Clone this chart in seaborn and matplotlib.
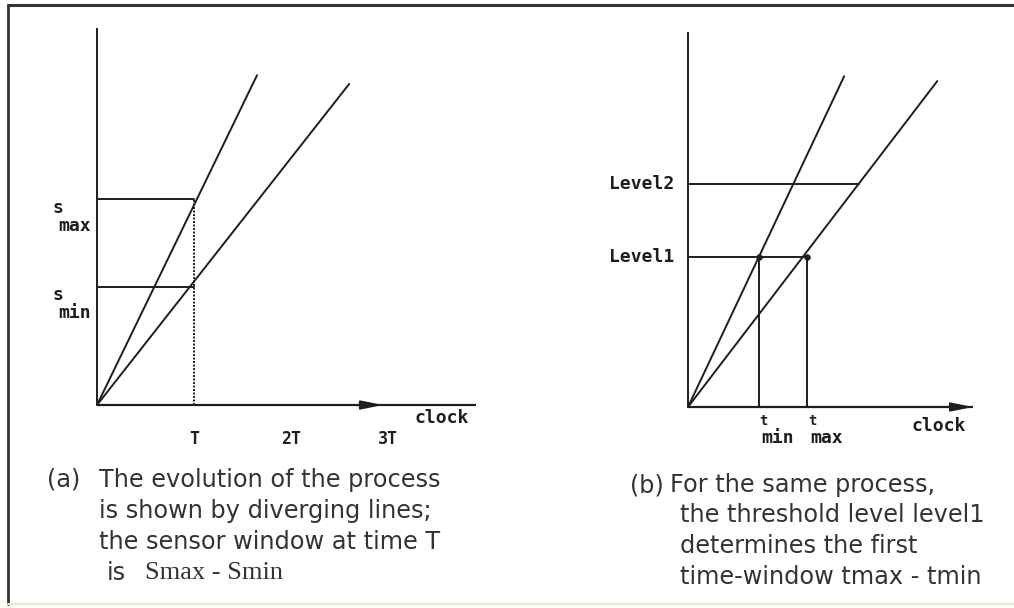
import matplotlib
matplotlib.use("Agg")
import matplotlib.pyplot as plt
from matplotlib.lines import Line2D
import numpy as np
import pandas as pd
import seaborn as sns

# ---- data (clock in units of T) ----
# panel (a): two diverging processes
a_names = ["fast", "slow"]
a_end_clock = [1.65, 2.60]
a_end_value = [3.40, 3.31]
a_T = 1.0
a_smax = 2.12
a_smin = 1.22
a_ticks = [1, 2, 3]
a_tick_labels = ["T", "2T", "3T"]
a_axis_top = 3.89
a_axis_right = 3.91
a_arrow_at = 2.95

# panel (b): same process, threshold levels
b_names = ["fast", "slow"]
b_end_clock = [1.61, 2.57]
b_end_value = [3.41, 3.36]
b_level1 = 1.55
b_level2 = 2.30
b_tmin = 0.73
b_tmax = 1.23
b_axis_top = 3.87
b_axis_right = 2.94

caption_a = [
    "The evolution of the process",
    "is shown by diverging lines;",
    "the sensor window at time T",
]
caption_b = [
    "For the same process,",
    "the threshold level level1",
    "determines the first",
    "time-window tmax - tmin",
]

W, H = 1014, 608
UNIT = 97  # pixels per data unit
INK = "#1e1e1e"
TXT = "#333333"
MONO = ["DejaVu Sans Mono"]
SANS = ["DejaVu Sans"]
SERIF = ["Liberation Serif", "DejaVu Serif"]
CAP = 17.3


def lines_frame(names, xs, ys):
    rows = []
    for n, x, y in zip(names, xs, ys):
        rows.append({"line": n, "clock": 0.0, "value": 0.0})
        rows.append({"line": n, "clock": x, "value": y})
    return pd.DataFrame(rows)


def panel_axes(fig, ox, oy, xlim, ylim):
    left = ox + xlim[0] * UNIT
    width = (xlim[1] - xlim[0]) * UNIT
    top = oy - ylim[1] * UNIT
    height = (ylim[1] - ylim[0]) * UNIT
    ax = fig.add_axes([left / W, 1 - (top + height) / H, width / W, height / H])
    ax.set_xlim(xlim)
    ax.set_ylim(ylim)
    ax.patch.set_visible(False)
    sns.despine(ax=ax, left=True, bottom=True)
    ax.spines["bottom"].set_position(("data", 0))
    ax.set_yticks([])
    ax.set_xticks([])
    return ax


def arrow_axes(ax, right, top, head_at):
    ax.plot([0, 0], [0, top], color=INK, lw=1.4, solid_capstyle="butt")
    ax.plot([0, right], [0, 0], color=INK, lw=1.6, solid_capstyle="butt")
    ax.annotate("", xy=(head_at, 0), xytext=(head_at - 0.1, 0),
                arrowprops=dict(arrowstyle="-|>,head_length=1.1,head_width=0.22",
                                color=INK, lw=1.4, shrinkA=0, shrinkB=0))


sns.set_theme(style="white")
plt.rcParams["font.family"] = ["DejaVu Sans"]

fig = plt.figure(figsize=(W / 100, H / 100), dpi=100)
lab_kw = dict(family=MONO, fontsize=13, color=INK, fontweight="bold")

# ---------- panel (a) ----------
ax = panel_axes(fig, 97, 405, (-0.55, 4.0), (-0.45, 4.05))
sns.lineplot(data=lines_frame(a_names, a_end_clock, a_end_value), x="clock", y="value",
             units="line", estimator=None, color=INK, lw=1.4, ax=ax, legend=False)
ax.set(xlabel="", ylabel="")
arrow_axes(ax, a_axis_right, a_axis_top, a_arrow_at)
for lev in (a_smax, a_smin):
    ax.plot([0, a_T], [lev, lev], color=INK, lw=1.4)
ax.plot([a_T, a_T], [0, a_smax], color=INK, lw=1.4, ls=(0, (1, 0.8)))
ax.set_xticks(a_ticks, a_tick_labels)
ax.tick_params(axis="x", length=0, pad=18, labelsize=12, labelcolor=INK)
for lab in ax.get_xticklabels():
    lab.set_family(MONO)
    lab.set_fontweight("bold")
for lev, sub in ((a_smax, "max"), (a_smin, "min")):
    ax.text(-0.46, lev - 0.09, "s", va="center", ha="left", **lab_kw)
    ax.text(-0.40, lev - 0.27, sub, va="center", ha="left", **lab_kw)
ax.text(3.55, -0.135, "clock", va="center", ha="center", **lab_kw)

# ---------- panel (b) ----------
bx = panel_axes(fig, 688, 407, (-0.9, 3.2), (-0.45, 4.0))
sns.lineplot(data=lines_frame(b_names, b_end_clock, b_end_value), x="clock", y="value",
             units="line", estimator=None, color=INK, lw=1.4, ax=bx, legend=False)
bx.set(xlabel="", ylabel="")
arrow_axes(bx, b_axis_right, b_axis_top, b_axis_right)
slow_slope = b_end_value[1] / b_end_clock[1]
bx.plot([0, b_level2 / slow_slope], [b_level2, b_level2], color=INK, lw=1.4)
bx.plot([0, b_tmax], [b_level1, b_level1], color=INK, lw=1.4)
for t in (b_tmin, b_tmax):
    bx.plot([t, t], [0, b_level1], color=INK, lw=1.4)
sns.scatterplot(x=[b_tmin, b_tmax], y=[b_level1, b_level1], color=INK, s=18,
                edgecolor=INK, ax=bx, zorder=5)
bx.set(xlabel="", ylabel="")
for lev, name in ((b_level2, "Level2"), (b_level1, "Level1")):
    bx.text(-0.14, lev, name, va="center", ha="right", **lab_kw)
for t, sub in ((b_tmin, "min"), (b_tmax, "max")):
    bx.text(t + 0.05, -0.14, "t", family=MONO, fontsize=10, color=INK, fontweight="bold",
            va="center", ha="center")
    bx.text(t + 0.03, -0.32, sub, va="center", ha="left", **lab_kw)
bx.text(2.58, -0.2, "clock", va="center", ha="center", **lab_kw)

# ---------- captions ----------
def ftext(x, y, s, **kw):
    fig.text(x / W, 1 - y / H, s, va="center", ha="left", color=TXT, **kw)

ftext(47, 480, "(a)", family=SANS, fontsize=CAP)
for i, line in enumerate(caption_a):
    ftext(99, 480 + 31 * i, line, family=SANS, fontsize=CAP)
ftext(107, 573, "is", family=SANS, fontsize=CAP)
ftext(145, 573, "Smax - Smin", family=SERIF, fontsize=19)

ftext(630, 485, "(b)", family=SANS, fontsize=CAP)
ftext(670, 485, caption_b[0], family=SANS, fontsize=CAP)
for i, line in enumerate(caption_b[1:], start=1):
    ftext(680, 485 + 30.5 * i, line, family=SANS, fontsize=CAP)

# ---------- scan frame ----------
fig.add_artist(Line2D([8 / W, 1], [1 - 5 / H] * 2, color="#333333", lw=2.2))
fig.add_artist(Line2D([8 / W] * 2, [1 - 5 / H, 1 - 604 / H], color="#333333", lw=2.0))
fig.add_artist(Line2D([8 / W, 1], [1 - 604 / H] * 2, color="#ece6b8", lw=1.5))

fig.savefig("out.png", dpi=100, facecolor="white")
